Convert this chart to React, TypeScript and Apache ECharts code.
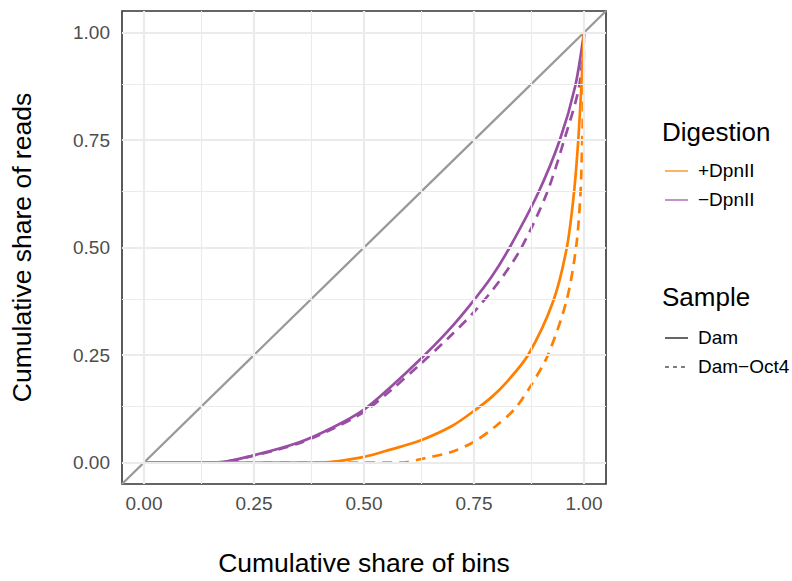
import React, { useEffect, useRef } from "react";
import * as echarts from "echarts";

// Tick / grid values
const majorTicks = [0, 0.25, 0.5, 0.75, 1.0];
const minorTicks = [0.125, 0.375, 0.625, 0.875];

// Lorenz-type curves (cumulative share of bins -> cumulative share of reads)
const minusDamX = [0, 0.163, 0.25, 0.353, 0.43, 0.5, 0.56, 0.625, 0.69, 0.74, 0.79, 0.831, 0.895, 0.945, 0.98, 1.0];
const minusDamY = [0, 0, 0.017, 0.047, 0.082, 0.123, 0.175, 0.237, 0.305, 0.365, 0.432, 0.5, 0.625, 0.75, 0.875, 1.0];

const minusOctX = [0, 0.163, 0.25, 0.353, 0.43, 0.5, 0.56, 0.625, 0.69, 0.75, 0.81, 0.858, 0.915, 0.955, 0.989, 1.0];
const minusOctY = [0, 0, 0.016, 0.045, 0.079, 0.118, 0.167, 0.226, 0.288, 0.35, 0.425, 0.5, 0.625, 0.75, 0.875, 1.0];

const plusDamX = [0, 0.405, 0.5, 0.56, 0.625, 0.7, 0.75, 0.79, 0.82, 0.873, 0.93, 0.961, 0.977, 0.987, 0.994, 1.0];
const plusDamY = [0, 0, 0.013, 0.03, 0.05, 0.085, 0.12, 0.152, 0.182, 0.25, 0.375, 0.5, 0.625, 0.75, 0.875, 1.0];

const plusOctX = [0, 0.59, 0.625, 0.7, 0.75, 0.8, 0.843, 0.88, 0.918, 0.96, 0.982, 0.992, 0.996, 0.999, 1.0];
const plusOctY = [0, 0, 0.007, 0.025, 0.048, 0.085, 0.125, 0.18, 0.25, 0.375, 0.5, 0.625, 0.75, 0.875, 1.0];

const diagonal = [-0.05, 1.05];

const ORANGE = "#FF7F00";
const PURPLE = "#984EA3";
const FONT = "Liberation Sans, Arial, sans-serif";

const zip = (xs: number[], ys: number[]) => xs.map((x, i) => [x, ys[i]]);

export default function App() {
  const ref = useRef<HTMLDivElement>(null);
  useEffect(() => {
    if (!ref.current) return;
    const chart = echarts.init(ref.current, null, { renderer: "svg" });

    const gridMark = (axis: "xAxis" | "yAxis") => [
      ...majorTicks.map((v) => ({ [axis]: v, lineStyle: { color: "#EBEBEB", width: 2.2, type: "solid" } })),
      ...minorTicks.map((v) => ({ [axis]: v, lineStyle: { color: "#EBEBEB", width: 1.1, type: "solid" } })),
    ];

    const curveLine = (name: string, xs: number[], ys: number[], color: string, dashed: boolean) => ({
      name,
      type: "line",
      data: zip(xs, ys),
      showSymbol: false,
      symbol: "none",
      smooth: 0.3,
      clip: true,
      lineStyle: { color, width: 2.7, type: dashed ? [10, 7] : "solid" },
      z: 3,
      silent: true,
    });

    const axisCommon = {
      type: "value",
      min: -0.05,
      max: 1.05,
      splitLine: { show: false },
      axisLine: { show: false },
      axisTick: {
        show: true,
        length: 5,
        customValues: majorTicks,
        lineStyle: { color: "#333333", width: 1.5 },
      },
      nameTextStyle: { fontFamily: FONT, fontSize: 26.5, color: "#000" },
      nameLocation: "middle",
    };

    chart.setOption({
      animation: false,
      grid: {
        left: 122,
        top: 11,
        width: 484,
        height: 480,
        show: true,
        borderColor: "#333333",
        borderWidth: 1.6,
        backgroundColor: "#FFFFFF",
        containLabel: false,
      },
      xAxis: {
        ...axisCommon,
        name: "Cumulative share of bins",
        nameGap: 65,
        axisLabel: {
          customValues: majorTicks,
          formatter: (v: number) => v.toFixed(2),
          fontFamily: FONT,
          fontSize: 19,
          color: "#4D4D4D",
          margin: 10,
        },
      },
      yAxis: {
        ...axisCommon,
        name: "Cumulative share of reads",
        nameGap: 87,
        axisLabel: {
          customValues: majorTicks,
          formatter: (v: number) => v.toFixed(2),
          fontFamily: FONT,
          fontSize: 19,
          color: "#4D4D4D",
          margin: 12,
        },
      },
      series: [
        {
          type: "line",
          data: [],
          silent: true,
          markLine: {
            silent: true,
            symbol: "none",
            label: { show: false },
            animation: false,
            data: [...gridMark("xAxis"), ...gridMark("yAxis")],
          },
          z: 1,
        },
        {
          type: "line",
          data: [
            [diagonal[0], diagonal[0]],
            [diagonal[1], diagonal[1]],
          ],
          showSymbol: false,
          symbol: "none",
          clip: true,
          lineStyle: { color: "#999999", width: 2.3 },
          silent: true,
          z: 2,
        },
        curveLine("−DpnII Dam", minusDamX, minusDamY, PURPLE, false),
        curveLine("−DpnII Dam−Oct4", minusOctX, minusOctY, PURPLE, true),
        curveLine("+DpnII Dam", plusDamX, plusDamY, ORANGE, false),
        curveLine("+DpnII Dam−Oct4", plusOctX, plusOctY, ORANGE, true),
      ],
      graphic: [
        { type: "text", left: 662, top: 119, style: { text: "Digestion", font: `26px ${FONT}`, fill: "#000" } },
        { type: "line", shape: { x1: 665, y1: 171, x2: 688, y2: 171 }, style: { stroke: ORANGE, lineWidth: 1.2 } },
        { type: "text", left: 698, top: 161, style: { text: "+DpnII", font: `19px ${FONT}`, fill: "#000" } },
        { type: "line", shape: { x1: 665, y1: 200, x2: 688, y2: 200 }, style: { stroke: PURPLE, lineWidth: 1.2 } },
        { type: "text", left: 698, top: 190, style: { text: "−DpnII", font: `19px ${FONT}`, fill: "#000" } },
        { type: "text", left: 662, top: 284, style: { text: "Sample", font: `26px ${FONT}`, fill: "#000" } },
        { type: "line", shape: { x1: 665, y1: 338, x2: 688, y2: 338 }, style: { stroke: "#000", lineWidth: 1.2 } },
        { type: "text", left: 698, top: 328, style: { text: "Dam", font: `19px ${FONT}`, fill: "#000" } },
        { type: "line", shape: { x1: 665, y1: 367, x2: 688, y2: 367 }, style: { stroke: "#000", lineWidth: 1.2, lineDash: [4, 4] } },
        { type: "text", left: 698, top: 357, style: { text: "Dam−Oct4", font: `19px ${FONT}`, fill: "#000" } },
      ],
    });
    return () => chart.dispose();
  }, []);
  return (
    <div
      ref={ref}
      style={{ position: "absolute", left: 0, top: 0, width: 792, height: 581, background: "#fff" }}
    />
  );
}
